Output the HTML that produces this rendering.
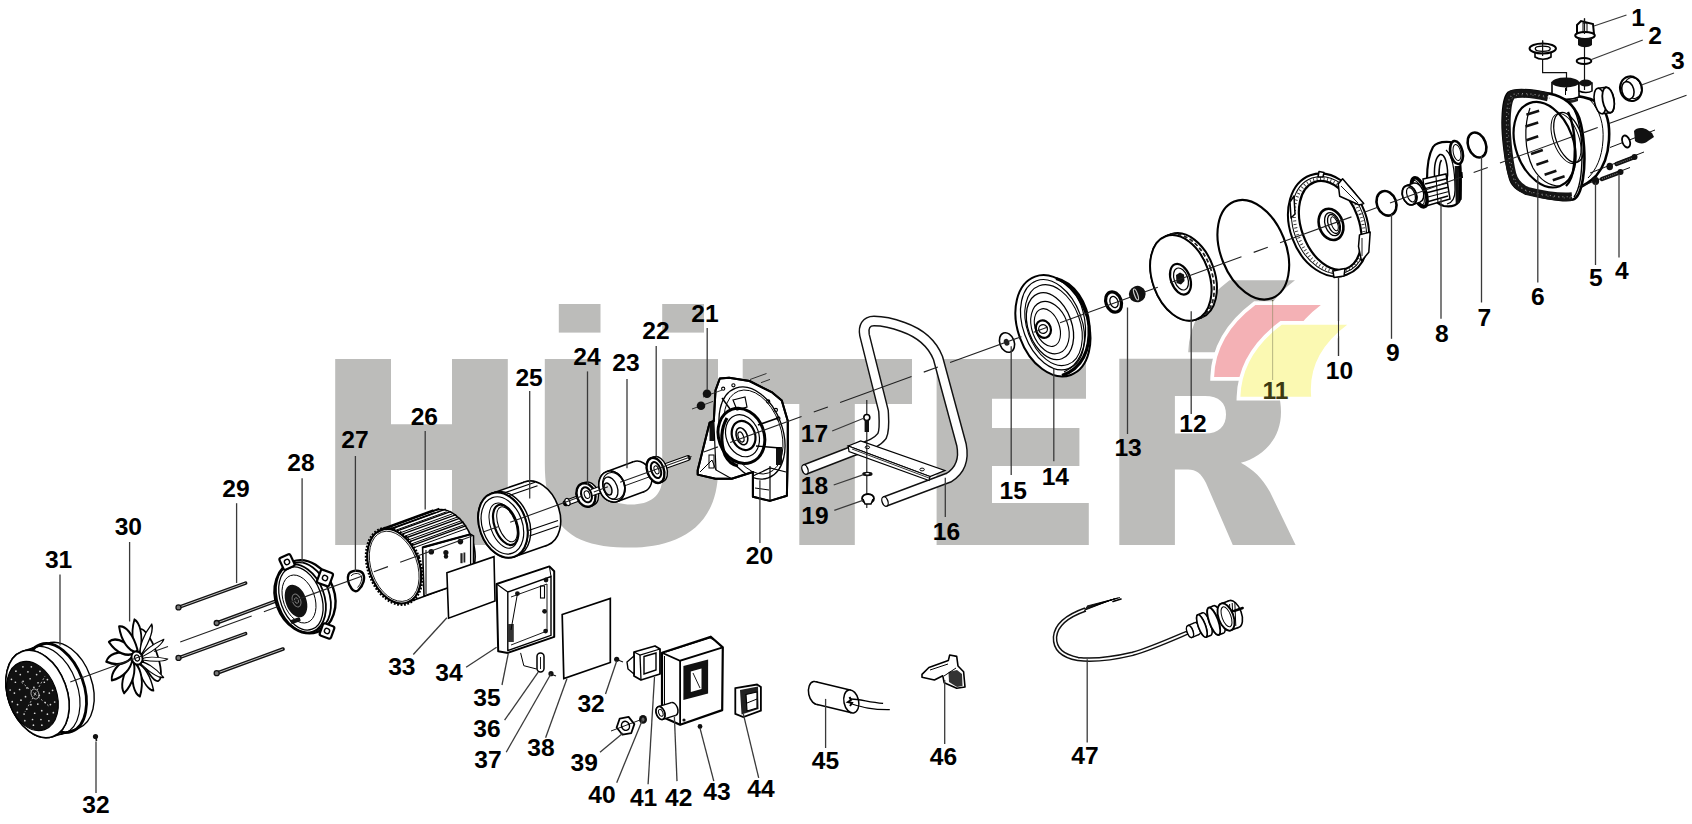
<!DOCTYPE html>
<html><head><meta charset="utf-8"><title>Exploded diagram</title>
<style>html,body{margin:0;padding:0;background:#fff;overflow:hidden}svg{display:block}</style>
</head><body>
<svg width="1692" height="824" viewBox="0 0 1692 824">
<rect width="1692" height="824" fill="#fff"/>
<g fill="#bcbcba"><path d="M335.2,359 H391 V424.3 H452 V359 H507.8 V545 H452 V470 H391 V545 H335.2 Z"/><path d="M544.8,359 H600.5 V478 C600.5,496 612,504.5 631,504.5 C650,504.5 662.2,496 662.2,478 V359 H718 V470 C718,533 669.4,547.6 631,547.6 C577.4,547.6 544.8,533.5 544.8,463 Z"/><rect x="558.8" y="304" width="41.7" height="28.6"/><rect x="662.2" y="304" width="41.8" height="28.6"/><path d="M742.7,359 H912 V404 H854.8 V545 H799.3 V404 H742.7 Z"/><path d="M936.6,359 H1086 V398.7 H992 V428 H1079.4 V466 H992 V503 H1088.8 V545 H936.6 Z"/><path d="M1119.3,358.7 H1215 C1262,358.7 1281,380 1281,412 C1281,440 1262,457 1240.8,462.8 C1254,470 1262,478 1270,492 L1295.6,545 H1232.8 L1206,483 C1201,473 1196,469.5 1188,469.5 H1174.9 V545 H1119.3 Z M1174.9,396 V433.5 H1205 C1219,433.5 1226,426 1226,414.5 C1226,403 1219,396 1205,396 Z" fill-rule="evenodd"/></g>
<path d="M1229.5,280.3 H1295 Q1255,310.3 1259,352.3 H1188.2 Q1189.5,310.3 1229.5,280.3 Z" fill="#fff" stroke="#fff" stroke-width="7.5" stroke-linejoin="miter"/>
<path d="M1229.5,280.3 H1295 Q1255,310.3 1259,352.3 H1188.2 Q1189.5,310.3 1229.5,280.3 Z" fill="#bcbcba"/>
<ellipse cx="62.5" cy="686" rx="29.44" ry="45.25" transform="rotate(-20 62.5 686)" fill="#fff" stroke="#000" stroke-width="1.4"/><polygon points="52.25,736.77 77.25,728.77 47.75,643.23 22.75,651.23" fill="#fff"/><line x1="52.25" y1="736.77" x2="77.25" y2="728.77" stroke="#000" stroke-width="1.4"/><line x1="22.75" y1="651.23" x2="47.75" y2="643.23" stroke="#000" stroke-width="1.4"/><ellipse cx="37.5" cy="694" rx="29.44" ry="45.25" transform="rotate(-20 37.5 694)" fill="#fff" stroke="#000" stroke-width="1.4"/><ellipse cx="56" cy="688" rx="27.75" ry="46.27" transform="rotate(-20 56 688)" stroke="#000" stroke-width="2.8" fill="none"/><ellipse cx="49" cy="690.5" rx="28.5" ry="45.66" transform="rotate(-20 49 690.5)" stroke="#000" stroke-width="1.2" fill="none"/><ellipse cx="37.5" cy="694" rx="29.44" ry="45.25" transform="rotate(-20 37.5 694)" stroke="#000" stroke-width="1.6" fill="#fff"/><ellipse cx="32.4" cy="696" rx="24.3" ry="35.74" transform="rotate(-20 32.4 696)" stroke="#000" stroke-width="1.2" fill="#111"/><g fill="#d8d8d8"><circle cx="39.29" cy="695.34" r="0.85"/><circle cx="37.8" cy="704.04" r="0.85"/><circle cx="30.91" cy="704.7" r="0.85"/><circle cx="25.51" cy="696.66" r="0.85"/><circle cx="27" cy="687.96" r="0.85"/><circle cx="33.89" cy="687.3" r="0.85"/><circle cx="43.82" cy="691.84" r="0.85"/><circle cx="45.23" cy="702.51" r="0.85"/><circle cx="41.74" cy="710.69" r="0.85"/><circle cx="34.69" cy="713.26" r="0.85"/><circle cx="26.76" cy="709.23" r="0.85"/><circle cx="20.98" cy="700.16" r="0.85"/><circle cx="19.57" cy="689.49" r="0.85"/><circle cx="23.06" cy="681.31" r="0.85"/><circle cx="30.11" cy="678.74" r="0.85"/><circle cx="38.04" cy="682.77" r="0.85"/><circle cx="49.31" cy="693.09" r="0.85"/><circle cx="50.41" cy="704.6" r="0.85"/><circle cx="47.39" cy="714.14" r="0.85"/><circle cx="40.94" cy="719.52" r="0.85"/><circle cx="32.52" cy="719.51" r="0.85"/><circle cx="24.09" cy="714.12" r="0.85"/><circle cx="17.55" cy="704.58" r="0.85"/><circle cx="14.42" cy="693.07" r="0.85"/><circle cx="15.4" cy="682.23" r="0.85"/><circle cx="20.28" cy="674.55" r="0.85"/><circle cx="27.94" cy="671.78" r="0.85"/><circle cx="36.62" cy="674.56" r="0.85"/><circle cx="44.33" cy="682.25" r="0.85"/><circle cx="52.56" cy="690.37" r="0.85"/><circle cx="54.65" cy="701.98" r="0.85"/><circle cx="53.35" cy="712.68" r="0.85"/><circle cx="48.87" cy="720.84" r="0.85"/><circle cx="41.87" cy="725.22" r="0.85"/><circle cx="33.44" cy="725.15" r="0.85"/><circle cx="24.84" cy="720.64" r="0.85"/><circle cx="17.4" cy="712.38" r="0.85"/><circle cx="12.24" cy="701.63" r="0.85"/><circle cx="10.15" cy="690.02" r="0.85"/><circle cx="11.45" cy="679.32" r="0.85"/><circle cx="15.93" cy="671.16" r="0.85"/><circle cx="22.93" cy="666.78" r="0.85"/><circle cx="31.36" cy="666.85" r="0.85"/><circle cx="39.96" cy="671.36" r="0.85"/><circle cx="47.4" cy="679.62" r="0.85"/></g><line x1="35" y1="694" x2="49.42" y2="706.62" stroke="#bbb" stroke-width="0.9" stroke-dasharray="2 2"/><line x1="35" y1="694" x2="24.91" y2="712.02" stroke="#bbb" stroke-width="0.9" stroke-dasharray="2 2"/><line x1="35" y1="694" x2="20.58" y2="681.38" stroke="#bbb" stroke-width="0.9" stroke-dasharray="2 2"/><line x1="35" y1="694" x2="45.09" y2="675.98" stroke="#bbb" stroke-width="0.9" stroke-dasharray="2 2"/><ellipse cx="35" cy="694" rx="3.82" ry="5.14" transform="rotate(-20 35 694)" stroke="#aaa" stroke-width="0.9" fill="none"/><circle cx="95.5" cy="736.5" r="2.6" fill="#111"/><line x1="96" y1="738" x2="96.5" y2="741" stroke="#111" stroke-width="1.6"/>
<ellipse cx="149" cy="655" rx="7.92" ry="27.52" transform="rotate(-20 149 655)" stroke="#000" stroke-width="1.8" fill="none"/><g transform="translate(137 658) scale(0.8 1)" fill="#fff" stroke="#000" stroke-width="2.4" stroke-linejoin="round"><g transform="rotate(5) scale(0.94 1)"><path d="M1,-6 C-6,-11 -11,-23 -7,-38 C0,-36 6,-25 4,-7 Z"/></g><g transform="rotate(35) scale(0.63 1)"><path d="M1,-6 C-6,-11 -11,-23 -7,-38 C0,-36 6,-25 4,-7 Z"/></g><g transform="rotate(65) scale(0.41 1)"><path d="M1,-6 C-6,-11 -11,-23 -7,-38 C0,-36 6,-25 4,-7 Z"/></g><g transform="rotate(95) scale(0.35 1)"><path d="M1,-6 C-6,-11 -11,-23 -7,-38 C0,-36 6,-25 4,-7 Z"/></g><g transform="rotate(125) scale(0.47 1)"><path d="M1,-6 C-6,-11 -11,-23 -7,-38 C0,-36 6,-25 4,-7 Z"/></g><g transform="rotate(155) scale(0.73 1)"><path d="M1,-6 C-6,-11 -11,-23 -7,-38 C0,-36 6,-25 4,-7 Z"/></g><g transform="rotate(185) scale(1 1)"><path d="M1,-6 C-6,-11 -11,-23 -7,-38 C0,-36 6,-25 4,-7 Z"/></g><g transform="rotate(215) scale(1 1)"><path d="M1,-6 C-6,-11 -11,-23 -7,-38 C0,-36 6,-25 4,-7 Z"/></g><g transform="rotate(245) scale(1 1)"><path d="M1,-6 C-6,-11 -11,-23 -7,-38 C0,-36 6,-25 4,-7 Z"/></g><g transform="rotate(275) scale(1 1)"><path d="M1,-6 C-6,-11 -11,-23 -7,-38 C0,-36 6,-25 4,-7 Z"/></g><g transform="rotate(305) scale(1 1)"><path d="M1,-6 C-6,-11 -11,-23 -7,-38 C0,-36 6,-25 4,-7 Z"/></g><g transform="rotate(335) scale(1 1)"><path d="M1,-6 C-6,-11 -11,-23 -7,-38 C0,-36 6,-25 4,-7 Z"/></g></g><ellipse cx="137" cy="658" rx="5.33" ry="6.64" transform="rotate(-20 137 658)" stroke="#000" stroke-width="1.8" fill="#fff"/><ellipse cx="137" cy="658" rx="2.41" ry="3.07" transform="rotate(-20 137 658)" stroke="#000" stroke-width="1.2" fill="none"/>
<line x1="178.5" y1="607.4" x2="245.6" y2="583.1" stroke="#111" stroke-width="3.6" stroke-linecap="round"/><line x1="178.5" y1="607.4" x2="245.6" y2="583.1" stroke="#bbb" stroke-width="1.0"/><circle cx="178.5" cy="607.4" r="2.5" fill="#777" stroke="#111" stroke-width="1.3"/><line x1="216.7" y1="623" x2="283" y2="598.4" stroke="#111" stroke-width="3.6" stroke-linecap="round"/><line x1="216.7" y1="623" x2="283" y2="598.4" stroke="#bbb" stroke-width="1.0"/><circle cx="216.7" cy="623" r="2.5" fill="#777" stroke="#111" stroke-width="1.3"/><line x1="178.5" y1="657.9" x2="245.6" y2="633.6" stroke="#111" stroke-width="3.6" stroke-linecap="round"/><line x1="178.5" y1="657.9" x2="245.6" y2="633.6" stroke="#bbb" stroke-width="1.0"/><circle cx="178.5" cy="657.9" r="2.5" fill="#777" stroke="#111" stroke-width="1.3"/><line x1="216.7" y1="673.2" x2="283" y2="649" stroke="#111" stroke-width="3.6" stroke-linecap="round"/><line x1="216.7" y1="673.2" x2="283" y2="649" stroke="#bbb" stroke-width="1.0"/><circle cx="216.7" cy="673.2" r="2.5" fill="#777" stroke="#111" stroke-width="1.3"/>
<ellipse cx="305.9" cy="596.5" rx="23.32" ry="35.17" transform="rotate(-20 305.9 596.5)" fill="#fff" stroke="#000" stroke-width="1.8"/><polygon points="313.31,631.41 318.31,629.41 293.49,563.59 288.49,565.59" fill="#fff"/><line x1="313.31" y1="631.41" x2="318.31" y2="629.41" stroke="#000" stroke-width="1.8"/><line x1="288.49" y1="565.59" x2="293.49" y2="563.59" stroke="#000" stroke-width="1.8"/><ellipse cx="300.9" cy="598.5" rx="23.32" ry="35.17" transform="rotate(-20 300.9 598.5)" fill="#fff" stroke="#000" stroke-width="1.8"/><ellipse cx="305" cy="596.7" rx="29.48" ry="37.33" transform="rotate(-20 305 596.7)" stroke="#000" stroke-width="2.4" fill="none"/><ellipse cx="300.9" cy="598.5" rx="20.41" ry="32.69" transform="rotate(-20 300.9 598.5)" stroke="#000" stroke-width="1.3" fill="#fff"/><ellipse cx="299" cy="599" rx="15.66" ry="24.9" transform="rotate(-20 299 599)" stroke="#000" stroke-width="0.9" fill="none"/><ellipse cx="296" cy="601" rx="10.33" ry="16.93" transform="rotate(-20 296 601)" fill="#111"/><ellipse cx="296.5" cy="600.5" rx="4.11" ry="6.75" transform="rotate(-20 296.5 600.5)" stroke="#777" stroke-width="1" fill="none"/><ellipse cx="296.5" cy="600.5" rx="1.85" ry="2.9" transform="rotate(-20 296.5 600.5)" stroke="#888" stroke-width="0.8" fill="none"/><rect x="290.5" y="618.5" width="10" height="4.2" rx="1" fill="#111" transform="rotate(-20 295.5 620.6)"/><g transform="translate(287 562) rotate(-25)"><rect x="-6.0" y="-6.5" width="12" height="13" rx="2" fill="#fff" stroke="#000" stroke-width="2.2"/><circle cx="0" cy="0" r="2.6" fill="none" stroke="#000" stroke-width="1.4"/></g><g transform="translate(325 578) rotate(20)"><rect x="-6.5" y="-7.0" width="13" height="14" rx="2" fill="#fff" stroke="#000" stroke-width="2.2"/><circle cx="0" cy="0" r="2.6" fill="none" stroke="#000" stroke-width="1.4"/></g><g transform="translate(327 631) rotate(20)"><rect x="-6.0" y="-6.5" width="12" height="13" rx="2" fill="#fff" stroke="#000" stroke-width="2.2"/><circle cx="0" cy="0" r="2.6" fill="none" stroke="#000" stroke-width="1.4"/></g>
<path d="M348.5,574.5 C351,570 360,569.5 363,573.5 C365.5,578 363.5,585 358.5,590 C356.5,592 353.5,591.5 351.5,588.5 C348.5,584 347,578.5 348.5,574.5 Z" fill="none" stroke="#000" stroke-width="2.4" stroke-linejoin="round"/><path d="M351,576 C353,573 359,572.5 361,575.5 C362.5,579 361,584 357.5,587.5" fill="none" stroke="#000" stroke-width="0.9"/>
<ellipse cx="448.2" cy="546.7" rx="24.98" ry="38.42" transform="rotate(-20 448.2 546.7)" fill="#fff" stroke="#000" stroke-width="1.6"/><polygon points="407.34,602.4 461.34,582.8 435.06,510.6 381.06,530.2" fill="#fff"/><line x1="407.34" y1="602.4" x2="461.34" y2="582.8" stroke="#000" stroke-width="1.6"/><line x1="381.06" y1="530.2" x2="435.06" y2="510.6" stroke="#000" stroke-width="1.6"/><ellipse cx="394.2" cy="566.3" rx="24.98" ry="38.42" transform="rotate(-20 394.2 566.3)" fill="#fff" stroke="#000" stroke-width="1.6"/><line x1="379.42" y1="529.63" x2="433.42" y2="510.03" stroke="#000" stroke-width="1.4"/><line x1="380.42" y1="532.23" x2="434.42" y2="512.63" stroke="#000" stroke-width="1.0"/><line x1="385.3" y1="528.13" x2="439.3" y2="508.53" stroke="#000" stroke-width="1.4"/><line x1="386.3" y1="530.73" x2="440.3" y2="511.13" stroke="#000" stroke-width="1.0"/><line x1="391.67" y1="528.75" x2="445.67" y2="509.15" stroke="#000" stroke-width="1.4"/><line x1="392.67" y1="531.35" x2="446.67" y2="511.75" stroke="#000" stroke-width="1.0"/><line x1="397.22" y1="530.92" x2="451.22" y2="511.32" stroke="#000" stroke-width="1.4"/><line x1="398.22" y1="533.52" x2="452.22" y2="513.92" stroke="#000" stroke-width="1.0"/><line x1="402.19" y1="534.14" x2="456.19" y2="514.54" stroke="#000" stroke-width="1.4"/><line x1="403.19" y1="536.74" x2="457.19" y2="517.14" stroke="#000" stroke-width="1.0"/><line x1="406.24" y1="537.76" x2="460.24" y2="518.16" stroke="#000" stroke-width="1.4"/><line x1="407.24" y1="540.36" x2="461.24" y2="520.76" stroke="#000" stroke-width="1.0"/><line x1="409.6" y1="541.58" x2="463.6" y2="521.98" stroke="#000" stroke-width="1.4"/><line x1="410.6" y1="544.18" x2="464.6" y2="524.58" stroke="#000" stroke-width="1.0"/><line x1="412.29" y1="545.31" x2="466.29" y2="525.71" stroke="#000" stroke-width="1.4"/><line x1="413.29" y1="547.91" x2="467.29" y2="528.31" stroke="#000" stroke-width="1.0"/><polygon points="422.6,547.4 470.6,534.3 473.5,536 473.5,580 447.3,588 424,596" fill="#fff" stroke="#000" stroke-width="1.6"/><line x1="426" y1="550" x2="426" y2="594" stroke="#000" stroke-width="1.0"/><line x1="422.6" y1="547.4" x2="470.6" y2="534.3" stroke="#000" stroke-width="2.2"/><circle cx="431.3" cy="551.8" r="2.8" fill="#111"/><circle cx="445.9" cy="552.6" r="2.6" fill="#111"/><circle cx="460.4" cy="541.6" r="2.8" fill="#111"/><circle cx="446" cy="556.5" r="2.2" fill="#111"/><rect x="460.4" y="553.2" width="2.2" height="10" fill="#222"/><rect x="463.5" y="552.5" width="1.8" height="10" fill="#222"/><line x1="470.6" y1="534.3" x2="470.6" y2="575" stroke="#000" stroke-width="1.3"/><ellipse cx="394.2" cy="566.3" rx="26.3" ry="39.73" transform="rotate(-20 394.2 566.3)" stroke="#000" stroke-width="2.4" fill="none" stroke-dasharray="1.8 1.6"/><ellipse cx="394.2" cy="566.3" rx="24.98" ry="38.42" transform="rotate(-20 394.2 566.3)" stroke="#000" stroke-width="2.0" fill="#fff"/><ellipse cx="394.2" cy="566.3" rx="22.95" ry="36.41" transform="rotate(-20 394.2 566.3)" stroke="#000" stroke-width="0.8" fill="none"/>
<ellipse cx="535.9" cy="513.6" rx="23.38" ry="33.63" transform="rotate(-20 535.9 513.6)" fill="#fff" stroke="#000" stroke-width="1.6"/><polygon points="514.21,556.77 547.21,545.27 524.59,481.93 491.59,493.43" fill="#fff"/><line x1="514.21" y1="556.77" x2="547.21" y2="545.27" stroke="#000" stroke-width="1.6"/><line x1="491.59" y1="493.43" x2="524.59" y2="481.93" stroke="#000" stroke-width="1.6"/><ellipse cx="502.9" cy="525.1" rx="23.38" ry="33.63" transform="rotate(-20 502.9 525.1)" fill="#fff" stroke="#000" stroke-width="1.6"/><line x1="506" y1="492.2" x2="535" y2="482.3" stroke="#000" stroke-width="1.2"/><line x1="508.5" y1="495.8" x2="537.5" y2="485.8" stroke="#000" stroke-width="1.2"/><line x1="528.5" y1="530.5" x2="558" y2="520.5" stroke="#000" stroke-width="1.2"/><line x1="529.5" y1="536" x2="558.5" y2="526" stroke="#000" stroke-width="1.2"/><ellipse cx="505.9" cy="524.1" rx="23.38" ry="33.63" transform="rotate(-20 505.9 524.1)" stroke="#000" stroke-width="1.4" fill="none"/><ellipse cx="502.9" cy="525.1" rx="23.38" ry="33.63" transform="rotate(-20 502.9 525.1)" stroke="#000" stroke-width="2.0" fill="#fff"/><ellipse cx="502.4" cy="525.4" rx="19.95" ry="29.56" transform="rotate(-20 502.4 525.4)" stroke="#000" stroke-width="1.2" fill="none"/><ellipse cx="505.7" cy="524.8" rx="11.12" ry="21.11" transform="rotate(-20 505.7 524.8)" stroke="#000" stroke-width="2.2" fill="#fff"/><ellipse cx="503.5" cy="525.6" rx="12.85" ry="23.48" transform="rotate(-20 503.5 525.6)" stroke="#000" stroke-width="1.0" fill="none"/><ellipse cx="507" cy="524.3" rx="8.69" ry="18.35" transform="rotate(-20 507 524.3)" stroke="#000" stroke-width="1.0" fill="none"/>
<line x1="566" y1="503" x2="600" y2="490.5" stroke="#000" stroke-width="6.5" stroke-linecap="round"/><line x1="566" y1="503" x2="600" y2="490.5" stroke="#fff" stroke-width="4.2"/><ellipse cx="567.5" cy="502" rx="2.29" ry="3.74" transform="rotate(-20 567.5 502)" stroke="#000" stroke-width="1.2" fill="#fff"/><ellipse cx="589" cy="493.9" rx="9.22" ry="12.1" transform="rotate(-20 589 493.9)" fill="#fff" stroke="#000" stroke-width="1.4"/><polygon points="590.14,506.37 593.14,505.27 584.86,482.53 581.86,483.63" fill="#fff"/><line x1="590.14" y1="506.37" x2="593.14" y2="505.27" stroke="#000" stroke-width="1.4"/><line x1="581.86" y1="483.63" x2="584.86" y2="482.53" stroke="#000" stroke-width="1.4"/><ellipse cx="586" cy="495" rx="9.22" ry="12.1" transform="rotate(-20 586 495)" fill="#fff" stroke="#000" stroke-width="1.4"/><ellipse cx="586" cy="495" rx="9.22" ry="12.1" transform="rotate(-20 586 495)" stroke="#000" stroke-width="2.4" fill="#fff"/><ellipse cx="586.5" cy="494.8" rx="5.13" ry="7.76" transform="rotate(-20 586.5 494.8)" stroke="#000" stroke-width="2.0" fill="none"/><ellipse cx="587" cy="494.6" rx="2.61" ry="3.93" transform="rotate(-20 587 494.6)" stroke="#000" stroke-width="1.0" fill="#fff"/><line x1="592" y1="492.5" x2="606" y2="487.5" stroke="#000" stroke-width="7.5"/><line x1="592" y1="492.5" x2="606" y2="487.5" stroke="#fff" stroke-width="5.2"/><ellipse cx="638.9" cy="476.6" rx="12.69" ry="15.83" transform="rotate(-20 638.9 476.6)" fill="#fff" stroke="#000" stroke-width="1.5"/><polygon points="617.42,501.44 644.42,491.44 633.38,461.76 606.38,471.76" fill="#fff"/><line x1="617.42" y1="501.44" x2="644.42" y2="491.44" stroke="#000" stroke-width="1.5"/><line x1="606.38" y1="471.76" x2="633.38" y2="461.76" stroke="#000" stroke-width="1.5"/><ellipse cx="611.9" cy="486.6" rx="12.69" ry="15.83" transform="rotate(-20 611.9 486.6)" fill="#fff" stroke="#000" stroke-width="1.5"/><line x1="613" y1="490" x2="660" y2="473" stroke="#000" stroke-width="0.9"/><ellipse cx="611.9" cy="486.6" rx="12.69" ry="15.83" transform="rotate(-20 611.9 486.6)" stroke="#000" stroke-width="1.6" fill="#fff"/><ellipse cx="613.5" cy="486" rx="10.57" ry="13.84" transform="rotate(-20 613.5 486)" stroke="#000" stroke-width="1.0" fill="none"/><ellipse cx="610.5" cy="488" rx="6.81" ry="11.44" transform="rotate(-20 610.5 488)" stroke="#000" stroke-width="1.3" fill="#fff"/><ellipse cx="608" cy="489" rx="3.6" ry="6.25" transform="rotate(-20 608 489)" stroke="#000" stroke-width="1.5" fill="#ddd"/><line x1="660" y1="468" x2="688" y2="458" stroke="#000" stroke-width="5.6" stroke-linecap="round"/><line x1="660" y1="468" x2="688" y2="458" stroke="#fff" stroke-width="3.6"/><ellipse cx="658.5" cy="469.2" rx="8.31" ry="13.06" transform="rotate(-20 658.5 469.2)" fill="#fff" stroke="#000" stroke-width="1.4"/><polygon points="659.97,482.57 662.97,481.47 654.03,456.93 651.03,458.03" fill="#fff"/><line x1="659.97" y1="482.57" x2="662.97" y2="481.47" stroke="#000" stroke-width="1.4"/><line x1="651.03" y1="458.03" x2="654.03" y2="456.93" stroke="#000" stroke-width="1.4"/><ellipse cx="655.5" cy="470.3" rx="8.31" ry="13.06" transform="rotate(-20 655.5 470.3)" fill="#fff" stroke="#000" stroke-width="1.4"/><ellipse cx="655.5" cy="470.3" rx="8.31" ry="13.06" transform="rotate(-20 655.5 470.3)" stroke="#000" stroke-width="2.4" fill="#fff"/><ellipse cx="656" cy="470.1" rx="4.63" ry="8.35" transform="rotate(-20 656 470.1)" stroke="#000" stroke-width="2.0" fill="none"/><ellipse cx="656.5" cy="469.9" rx="2.18" ry="4.18" transform="rotate(-20 656.5 469.9)" stroke="#000" stroke-width="1.0" fill="#fff"/>
<polygon points="719.8,378.5 715.5,390.4 713.8,421 709.6,422.7 697.7,470.3 697.7,474.6 715.5,478.8 731.7,478.8 752.9,472 752.9,496.7 769.9,500.9 786.9,495.8 787.8,448.2 787.8,421 781.8,400.6 771.6,392.1 749.5,381 729.1,377.7" fill="#fff" stroke="#000" stroke-width="2.0" stroke-linejoin="round"/><clipPath id="c20"><polygon points="719.8,378.5 715.5,390.4 713.8,421 709.6,422.7 697.7,470.3 697.7,474.6 715.5,478.8 731.7,478.8 752.9,472 752.9,496.7 769.9,500.9 786.9,495.8 787.8,448.2 787.8,421 781.8,400.6 771.6,392.1 749.5,381 729.1,377.7"/></clipPath><g clip-path="url(#c20)"><ellipse cx="752" cy="433" rx="30.53" ry="47.67" transform="rotate(-20 752 433)" stroke="#000" stroke-width="1.3" fill="none"/><ellipse cx="753.5" cy="432" rx="27.09" ry="43.59" transform="rotate(-20 753.5 432)" stroke="#000" stroke-width="0.9" fill="none"/><polyline points="713.8,421 716,470 731.7,478.8" fill="none" stroke="#000" stroke-width="1.2"/><polyline points="700,472 712,460 716,470" fill="none" stroke="#000" stroke-width="1"/><rect x="709.5" y="421" width="4.5" height="20" fill="#111"/><rect x="709" y="455" width="5" height="13" fill="none" stroke="#000" stroke-width="1"/><polyline points="752.9,476 770,468 786,472" fill="none" stroke="#000" stroke-width="1.2"/><line x1="770" y1="466" x2="770" y2="500" stroke="#000" stroke-width="1.2"/><line x1="755" y1="488" x2="769" y2="490" stroke="#000" stroke-width="1"/><rect x="776" y="447" width="6" height="18" fill="#111"/><ellipse cx="741.4" cy="435.9" rx="22.69" ry="28.19" transform="rotate(-20 741.4 435.9)" stroke="#000" stroke-width="3.0" fill="#fff"/><path d="M727,418 C721,428 720,442 725,455 C728,461 733,465 738,466" fill="none" stroke="#000" stroke-width="3.2"/><ellipse cx="742.5" cy="435.7" rx="16.3" ry="21.55" transform="rotate(-20 742.5 435.7)" stroke="#000" stroke-width="1.2" fill="none"/><ellipse cx="743.6" cy="435.5" rx="11.45" ry="14.86" transform="rotate(-20 743.6 435.5)" stroke="#000" stroke-width="2.2" fill="#fff"/><ellipse cx="741.9" cy="436.3" rx="5.39" ry="8.83" transform="rotate(-20 741.9 436.3)" stroke="#000" stroke-width="1.6" fill="none"/><ellipse cx="741" cy="437" rx="2.56" ry="5.24" transform="rotate(-20 741 437)" stroke="#000" stroke-width="1.2" fill="none"/><line x1="758" y1="425" x2="778" y2="418" stroke="#000" stroke-width="1.8"/><line x1="756" y1="446" x2="780" y2="448" stroke="#000" stroke-width="1.4"/><line x1="730" y1="409" x2="722" y2="398" stroke="#000" stroke-width="1.4"/><polygon points="733,400 745,397 747,407 737,410" fill="none" stroke="#000" stroke-width="1.2"/><circle cx="723.2" cy="388.7" r="1.6" fill="none" stroke="#000" stroke-width="1.1"/><circle cx="733.4" cy="385.3" r="1.6" fill="none" stroke="#000" stroke-width="1.1"/><circle cx="768.2" cy="401.5" r="1.6" fill="none" stroke="#000" stroke-width="1.1"/><circle cx="775.9" cy="410" r="1.6" fill="none" stroke="#000" stroke-width="1.1"/><circle cx="778.4" cy="418.5" r="1.6" fill="none" stroke="#000" stroke-width="1.1"/></g><polygon points="719.8,378.5 715.5,390.4 713.8,421 709.6,422.7 697.7,470.3 697.7,474.6 715.5,478.8 731.7,478.8 752.9,472 752.9,496.7 769.9,500.9 786.9,495.8 787.8,448.2 787.8,421 781.8,400.6 771.6,392.1 749.5,381 729.1,377.7" fill="none" stroke="#000" stroke-width="2.0" stroke-linejoin="round"/><line x1="692" y1="409" x2="713" y2="401.4" stroke="#222" stroke-width="0.9"/><line x1="703" y1="397" x2="722" y2="390.1" stroke="#222" stroke-width="0.9"/><line x1="750" y1="379.5" x2="766.5" y2="373.5" stroke="#222" stroke-width="0.9"/><line x1="761" y1="382.7" x2="770" y2="379.4" stroke="#222" stroke-width="0.9"/><circle cx="707" cy="393.8" r="4.3" fill="#111"/><circle cx="701" cy="405.7" r="4.3" fill="#111"/>
<path d="M805,469.5 L851.5,451.5 C866,446 876,444 882,436 C885,430 884,420 883.5,411 L864.5,335 C863,327 866,321 874,321 C882,321 895,324 903,327 C920,333 932,343 938,358 L961.5,445 C964,458 961,470 949,477.5 L885,501.5" fill="none" stroke="#111" stroke-width="11" stroke-linejoin="round"/><path d="M805,469.5 L851.5,451.5 C866,446 876,444 882,436 C885,430 884,420 883.5,411 L864.5,335 C863,327 866,321 874,321 C882,321 895,324 903,327 C920,333 932,343 938,358 L961.5,445 C964,458 961,470 949,477.5 L885,501.5" fill="none" stroke="#fff" stroke-width="8.1" stroke-linejoin="round"/><ellipse cx="805" cy="469.5" rx="2.88" ry="5" transform="rotate(-20 805 469.5)" fill="#fff" stroke="#000" stroke-width="1.3"/><ellipse cx="885" cy="501.5" rx="2.88" ry="5" transform="rotate(-20 885 501.5)" fill="#fff" stroke="#000" stroke-width="1.3"/><polygon points="848.2,446 860.7,440.9 944.8,470.5 930,476.5" fill="#fff" stroke="#000" stroke-width="1.3"/><polygon points="848.2,446 930,476.5 929,480.5 849,451.5" fill="#fff" stroke="#000" stroke-width="1.2"/><line x1="852" y1="449" x2="929" y2="478" stroke="#000" stroke-width="0.8"/><ellipse cx="867.4" cy="447.3" rx="2.2" ry="1.4" fill="none" stroke="#000" stroke-width="1"/><ellipse cx="922.1" cy="469.5" rx="2.2" ry="1.4" fill="none" stroke="#000" stroke-width="1"/><line x1="866.8" y1="400" x2="866.8" y2="508" stroke="#111" stroke-width="1.1"/><circle cx="866.8" cy="417.5" r="3" fill="#fff" stroke="#000" stroke-width="1.6"/><rect x="864.6" y="420" width="4.4" height="12" fill="#111"/><ellipse cx="867.4" cy="474" rx="5.2" ry="2.2" fill="#111"/><ellipse cx="867.4" cy="473.8" rx="2" ry="0.8" fill="#fff"/><ellipse cx="868" cy="498.5" rx="6" ry="4.5" fill="#fff" stroke="#000" stroke-width="1.8"/><path d="M863,499 L865,504 L871,504 L873,499" fill="#fff" stroke="#000" stroke-width="1.4"/>
<ellipse cx="1007" cy="342.5" rx="7.21" ry="10.09" transform="rotate(-20 1007 342.5)" stroke="#000" stroke-width="1.6" fill="#fff"/><ellipse cx="1006.6" cy="342.3" rx="2.7" ry="3.48" transform="rotate(-20 1006.6 342.3)" fill="#222"/><ellipse cx="1052.9" cy="325.8" rx="35.07" ry="52.31" transform="rotate(-20 1052.9 325.8)" stroke="#000" stroke-width="2.0" fill="#fff"/><path d="M1056,278.5 C1074,283 1087,302 1089,326 C1090.5,350 1082,369 1062,375.5" fill="none" stroke="#000" stroke-width="3.2"/><path d="M1060,281 C1075,287 1084,305 1085.5,327 C1086.5,348 1079,365 1064,372" fill="none" stroke="#000" stroke-width="1.2"/><ellipse cx="1052.5" cy="324.7" rx="29.49" ry="46.78" transform="rotate(-20 1052.5 324.7)" stroke="#000" stroke-width="1.2" fill="none"/><ellipse cx="1053.55" cy="325.1" rx="26.52" ry="41.89" transform="rotate(-20 1053.55 325.1)" stroke="#000" stroke-width="1.1" fill="none"/><ellipse cx="1049.95" cy="326.15" rx="21.77" ry="34.7" transform="rotate(-20 1049.95 326.15)" stroke="#000" stroke-width="1.3" fill="none"/><ellipse cx="1049.95" cy="327.6" rx="17.95" ry="27.1" transform="rotate(-20 1049.95 327.6)" stroke="#000" stroke-width="1.1" fill="none"/><ellipse cx="1047.4" cy="327.6" rx="11.97" ry="19.64" transform="rotate(-20 1047.4 327.6)" stroke="#000" stroke-width="1.1" fill="none"/><ellipse cx="1043.4" cy="329.05" rx="7.41" ry="8.91" transform="rotate(-20 1043.4 329.05)" stroke="#000" stroke-width="2.2" fill="#fff"/><ellipse cx="1043.05" cy="329.05" rx="4.35" ry="4.35" transform="rotate(-20 1043.05 329.05)" stroke="#000" stroke-width="1.3" fill="none"/><ellipse cx="1113.6" cy="302" rx="7.61" ry="10.5" transform="rotate(-20 1113.6 302)" stroke="#000" stroke-width="3.2" fill="#fff"/><ellipse cx="1114" cy="302" rx="3.94" ry="5.78" transform="rotate(-20 1114 302)" stroke="#000" stroke-width="1.3" fill="none"/><ellipse cx="1137.3" cy="294.1" rx="8.43" ry="8.17" transform="rotate(-20 1137.3 294.1)" fill="#111"/><ellipse cx="1136" cy="294.5" rx="1.61" ry="5.82" transform="rotate(-20 1136 294.5)" fill="none" stroke="#ccc" stroke-width="1.2"/>
<ellipse cx="1186.3" cy="275.9" rx="28.3" ry="44.26" transform="rotate(-20 1186.3 275.9)" fill="#fff" stroke="#000" stroke-width="2.0"/><polygon points="1195.94,319.49 1201.44,317.49 1171.16,234.31 1165.66,236.31" fill="#fff"/><line x1="1195.94" y1="319.49" x2="1201.44" y2="317.49" stroke="#000" stroke-width="2.0"/><line x1="1165.66" y1="236.31" x2="1171.16" y2="234.31" stroke="#000" stroke-width="2.0"/><ellipse cx="1180.8" cy="277.9" rx="28.3" ry="44.26" transform="rotate(-20 1180.8 277.9)" fill="#fff" stroke="#000" stroke-width="2.0"/><ellipse cx="1183.6" cy="276.9" rx="28.3" ry="44.26" transform="rotate(-20 1183.6 276.9)" stroke="#222" stroke-width="1.8" fill="none" stroke-dasharray="4 2.5"/><ellipse cx="1180.8" cy="277.9" rx="28.3" ry="44.26" transform="rotate(-20 1180.8 277.9)" stroke="#000" stroke-width="1.8" fill="#fff"/><ellipse cx="1180.5" cy="279.2" rx="9.56" ry="15.91" transform="rotate(-20 1180.5 279.2)" stroke="#000" stroke-width="2.2" fill="#fff"/><ellipse cx="1181" cy="279" rx="6.81" ry="11.44" transform="rotate(-20 1181 279)" stroke="#000" stroke-width="1.2" fill="none"/><polygon points="1176,275 1180,272.5 1184,274.5 1184.5,281 1181,284.5 1176.5,283" fill="#111"/>
<ellipse cx="1253.3" cy="249.75" rx="32.6" ry="51.9" transform="rotate(-21.6 1253.3 249.75)" fill="none" stroke="#000" stroke-width="2.1"/>
<ellipse cx="1328.5" cy="225" rx="38.54" ry="52.98" transform="rotate(-20 1328.5 225)" stroke="#000" stroke-width="2.0" fill="#fff"/><ellipse cx="1329" cy="225" rx="35.52" ry="49.97" transform="rotate(-20 1329 225)" stroke="#000" stroke-width="1.0" fill="none"/><ellipse cx="1329.2" cy="225.2" rx="32.89" ry="48.01" transform="rotate(-20 1329.2 225.2)" stroke="#333" stroke-width="3.2" fill="none" stroke-dasharray="0.9 2.6"/><ellipse cx="1330.2" cy="225.4" rx="28.78" ry="46.07" transform="rotate(-20 1330.2 225.4)" stroke="#000" stroke-width="2.2" fill="#fff"/><polygon points="1338.2,183.9 1342.6,178.8 1363.7,203.6 1359.3,205 1339.7,196.3" fill="#fff" stroke="#000" stroke-width="1.5" stroke-linejoin="round"/><polygon points="1359.5,234.9 1370.2,232 1368.8,252.3 1361.5,261 1358.5,246.5" fill="#fff" stroke="#000" stroke-width="1.5" stroke-linejoin="round"/><polygon points="1319,171.5 1324,172.5 1323,177 1318,177" fill="#fff" stroke="#000" stroke-width="1.5" stroke-linejoin="round"/><polygon points="1333,271 1345,268.5 1344,276 1334,277.5" fill="#fff" stroke="#000" stroke-width="1.5" stroke-linejoin="round"/><polygon points="1290,202 1294,196 1295,214 1291,218" fill="#fff" stroke="#000" stroke-width="1.5" stroke-linejoin="round"/><line x1="1341" y1="186" x2="1358" y2="203" stroke="#000" stroke-width="0.9"/><line x1="1362" y1="238" x2="1362" y2="256" stroke="#000" stroke-width="0.9"/><ellipse cx="1331" cy="224.4" rx="11.84" ry="16.03" transform="rotate(-20 1331 224.4)" stroke="#000" stroke-width="2.6" fill="#fff"/><ellipse cx="1332.5" cy="224.2" rx="7.32" ry="11.94" transform="rotate(-20 1332.5 224.2)" stroke="#000" stroke-width="1.3" fill="none"/><ellipse cx="1333.5" cy="224" rx="5.26" ry="9.93" transform="rotate(-20 1333.5 224)" stroke="#000" stroke-width="1.3" fill="none"/><ellipse cx="1334.5" cy="223.8" rx="3.03" ry="7.37" transform="rotate(-20 1334.5 223.8)" stroke="#000" stroke-width="1.0" fill="none"/>
<ellipse cx="1386.5" cy="203.3" rx="9.6" ry="12.61" transform="rotate(-20 1386.5 203.3)" stroke="#000" stroke-width="2.6" fill="none"/><ellipse cx="1386.5" cy="203.3" rx="7.61" ry="10.5" transform="rotate(-20 1386.5 203.3)" stroke="#fff" stroke-width="0.6" fill="none"/><ellipse cx="1477" cy="145" rx="8.83" ry="12.91" transform="rotate(-20 1477 145)" stroke="#000" stroke-width="2.6" fill="none"/><ellipse cx="1477" cy="145" rx="6.8" ry="10.9" transform="rotate(-20 1477 145)" stroke="#fff" stroke-width="0.6" fill="none"/>
<path d="M1427,180 C1427,168 1429,154 1433,147 C1436,142.5 1443,141.5 1450,142 L1458,147 C1461,160 1461,185 1460.5,198 C1459,205 1452,207.5 1444,206 C1436,204 1430,196 1427,180 Z" fill="#fff" stroke="#000" stroke-width="2.2" stroke-linejoin="round"/><path d="M1434.5,177 C1434,165 1436,157 1440,154.5 C1444,153.5 1446.5,160 1447.5,170 C1448,177 1447,181 1445,182 Z" fill="none" stroke="#000" stroke-width="1.5"/><path d="M1439,176 C1439,168 1440,162 1441.5,160" fill="none" stroke="#000" stroke-width="1.6"/><path d="M1446,150 C1452,155 1455,170 1455,190 C1455,198 1452,203 1447,204" fill="none" stroke="#000" stroke-width="1.2"/><line x1="1459.5" y1="166" x2="1460" y2="200" stroke="#000" stroke-width="3.0"/><line x1="1461.5" y1="172" x2="1462" y2="178" stroke="#000" stroke-width="2.0"/><ellipse cx="1456.5" cy="152.5" rx="6.16" ry="11.68" transform="rotate(-12 1456.5 152.5)" stroke="#000" stroke-width="2.6" fill="#fff"/><ellipse cx="1457" cy="152.5" rx="3.71" ry="8.14" transform="rotate(-12 1457 152.5)" stroke="#000" stroke-width="1.0" fill="none"/><line x1="1456.5" y1="166" x2="1457.5" y2="203" stroke="#111" stroke-width="3.6"/><polygon points="1423,179 1446,174 1450,199 1426,206" fill="#fff" stroke="#000" stroke-width="1.5"/><line x1="1425" y1="184" x2="1448" y2="178.5" stroke="#000" stroke-width="1.6"/><line x1="1425" y1="188.6" x2="1448" y2="182.9" stroke="#000" stroke-width="1.1"/><line x1="1425" y1="193.2" x2="1448" y2="187.3" stroke="#000" stroke-width="1.6"/><line x1="1425" y1="197.8" x2="1448" y2="191.7" stroke="#000" stroke-width="1.1"/><line x1="1425" y1="202.4" x2="1448" y2="196.1" stroke="#000" stroke-width="1.6"/><line x1="1436" y1="177" x2="1438" y2="203" stroke="#000" stroke-width="1.0"/><ellipse cx="1419.3" cy="192.3" rx="6.17" ry="15.27" transform="rotate(-20 1419.3 192.3)" stroke="#000" stroke-width="3.6" fill="#fff"/><ellipse cx="1418.5" cy="192.5" rx="4.1" ry="12.68" transform="rotate(-20 1418.5 192.5)" stroke="#000" stroke-width="1.0" fill="none"/><ellipse cx="1416.5" cy="192.7" rx="6.86" ry="10.02" transform="rotate(-20 1416.5 192.7)" fill="#fff" stroke="#000" stroke-width="1.5"/><polygon points="1412.93,204.61 1419.93,202.11 1413.07,183.29 1406.07,185.79" fill="#fff"/><line x1="1412.93" y1="204.61" x2="1419.93" y2="202.11" stroke="#000" stroke-width="1.5"/><line x1="1406.07" y1="185.79" x2="1413.07" y2="183.29" stroke="#000" stroke-width="1.5"/><ellipse cx="1409.5" cy="195.2" rx="6.86" ry="10.02" transform="rotate(-20 1409.5 195.2)" fill="#fff" stroke="#000" stroke-width="1.5"/><ellipse cx="1409.5" cy="195.2" rx="6.86" ry="10.02" transform="rotate(-20 1409.5 195.2)" stroke="#000" stroke-width="1.8" fill="#fff"/><ellipse cx="1411" cy="194.8" rx="3.93" ry="7.53" transform="rotate(-20 1411 194.8)" stroke="#000" stroke-width="1.2" fill="none"/>
<path d="M1548,94 C1562,93 1590,96 1600,104 C1607,112 1610,125 1609,140 C1608,156 1603,168 1596,176 C1590,182 1583,186 1578,188 L1560,190 Z" fill="#fff" stroke="#000" stroke-width="2.6"/><path d="M1590,100 C1600,110 1604,125 1603,140 C1602,158 1596,170 1588,178" fill="none" stroke="#000" stroke-width="1.0"/><ellipse cx="1608.3" cy="100" rx="5.66" ry="12.86" transform="rotate(-10 1608.3 100)" fill="#fff" stroke="#000" stroke-width="1.6"/><polygon points="1602.09,113.68 1610.39,112.68 1606.21,87.32 1597.91,88.32" fill="#fff"/><line x1="1602.09" y1="113.68" x2="1610.39" y2="112.68" stroke="#000" stroke-width="1.6"/><line x1="1597.91" y1="88.32" x2="1606.21" y2="87.32" stroke="#000" stroke-width="1.6"/><ellipse cx="1600" cy="101" rx="5.66" ry="12.86" transform="rotate(-10 1600 101)" fill="#fff" stroke="#000" stroke-width="1.6"/><ellipse cx="1608.3" cy="100" rx="5.66" ry="12.86" transform="rotate(-10 1608.3 100)" stroke="#000" stroke-width="1.8" fill="#fff"/><path d="M1552,82.5 V97 C1560,100 1572,100 1579,97 V82.5 Z" fill="#fff" stroke="#000" stroke-width="1.6"/><ellipse cx="1565.5" cy="82.5" rx="13.6" ry="5" fill="#111"/><line x1="1565.5" y1="88" x2="1565.5" y2="95" stroke="#000" stroke-width="1.0"/><path d="M1579,83 V91 C1583,93 1589,93 1592,91 V83 Z" fill="#fff" stroke="#000" stroke-width="1.5"/><ellipse cx="1585.6" cy="83" rx="6.4" ry="3.5" fill="#111"/><path d="M1556,98 C1562,101 1572,101 1578,98 L1578,101 C1570,104 1562,104 1556,101 Z" fill="#222"/><path d="M1508.2,92.8 C1515,88 1532,90 1550,93.7 C1562,96 1573,102 1579.2,118 C1584,133 1586,160 1583,178.3 C1581,191 1578,198 1573,199.5 C1565,201.5 1545,198 1526.4,192.9 C1516,190 1511,184 1509.5,176.5 C1505,160 1502,132 1502.7,118 C1503,106 1504,97 1508.2,92.8 Z" fill="#fff" stroke="#000" stroke-width="2.6"/><path d="M1548,97 C1535,94 1522,92.5 1512.5,94.5 C1508.5,97.5 1507,106 1506.5,118 C1506,132 1508,158 1512,174 C1514,182 1518,187 1527,191 C1545,195.5 1561,197.5 1572,196.5" fill="none" stroke="#151515" stroke-width="8.5"/><path d="M1548,97 C1535,94 1522,92.5 1512.5,94.5 C1508.5,97.5 1507,106 1506.5,118 C1506,132 1508,158 1512,174 C1514,182 1518,187 1527,191 C1545,195.5 1561,197.5 1572,196.5" fill="none" stroke="#999" stroke-width="1.1" stroke-dasharray="1 3.2"/><path d="M1548,97 C1535,94 1522,92.5 1512.5,94.5 C1508.5,97.5 1507,106 1506.5,118 C1506,132 1508,158 1512,174 C1514,182 1518,187 1527,191 C1545,195.5 1561,197.5 1572,196.5" fill="none" stroke="#777" stroke-width="0.9" stroke-dasharray="1 4.5" transform="translate(1.8 1.2)"/><path d="M1569,102 C1577,110 1582,130 1582,155 C1582,175 1579,190 1574,197" fill="none" stroke="#000" stroke-width="1.4"/><ellipse cx="1544.6" cy="144.7" rx="28.8" ry="44.21" transform="rotate(-20 1544.6 144.7)" stroke="#000" stroke-width="2.2" fill="#fff"/><path d="M1568,112 C1574,125 1576,145 1574,165 C1573,175 1570,182 1566,186" fill="none" stroke="#000" stroke-width="2.4"/><ellipse cx="1568.7" cy="137.5" rx="12.8" ry="26.19" transform="rotate(-20 1568.7 137.5)" stroke="#000" stroke-width="1.3" fill="none"/><ellipse cx="1566" cy="138.5" rx="12.8" ry="26.19" transform="rotate(-20 1566 138.5)" stroke="#000" stroke-width="1.0" fill="none"/><path d="M1530,108 C1524,125 1524,150 1533,168 C1540,180 1550,186 1560,186" fill="none" stroke="#000" stroke-width="1.2"/><line x1="1526.4" y1="114.8" x2="1539.1" y2="110.8" stroke="#111" stroke-width="2.6"/><line x1="1525.5" y1="126.6" x2="1538.2" y2="122.6" stroke="#111" stroke-width="2.6"/><line x1="1526.4" y1="140.3" x2="1538.2" y2="136.3" stroke="#111" stroke-width="2.6"/><line x1="1531" y1="153.9" x2="1542.8" y2="149.9" stroke="#111" stroke-width="2.6"/><line x1="1536.4" y1="164.8" x2="1548.2" y2="160.8" stroke="#111" stroke-width="2.6"/><line x1="1544.6" y1="174.8" x2="1556.4" y2="170.8" stroke="#111" stroke-width="2.6"/><line x1="1552.8" y1="180.3" x2="1564.6" y2="176.3" stroke="#111" stroke-width="2.6"/>
<polyline points="1542.6,40.5 1542.6,72.6 1566.5,72.6 1566.5,91" fill="none" stroke="#111" stroke-width="1.2"/><line x1="1584.5" y1="18.4" x2="1584.5" y2="90" stroke="#111" stroke-width="1.2"/><path d="M1577,25 L1581,21 L1593,24 L1594,34 L1577,34 Z" fill="#fff" stroke="#000" stroke-width="2"/><rect x="1583" y="23" width="4" height="10" fill="none" stroke="#000" stroke-width="1"/><ellipse cx="1585" cy="35.5" rx="9.8" ry="3.6" fill="#fff" stroke="#000" stroke-width="2"/><path d="M1578,38 H1592 V45 C1588,48 1582,48 1578,45 Z" fill="#111"/><line x1="1584.5" y1="18.4" x2="1584.5" y2="34" stroke="#111" stroke-width="1.2"/><ellipse cx="1584" cy="61" rx="7.4" ry="3" fill="none" stroke="#000" stroke-width="1.9"/><path d="M1535,50 V57 C1539,60 1547,60 1551,57 V50 Z" fill="#fff" stroke="#000" stroke-width="1.6"/><ellipse cx="1542.75" cy="48.5" rx="13.2" ry="5" fill="#fff" stroke="#000" stroke-width="2"/><ellipse cx="1542.75" cy="48.8" rx="7.5" ry="2.6" fill="none" stroke="#000" stroke-width="1.3"/><line x1="1542.6" y1="40.5" x2="1542.6" y2="56" stroke="#111" stroke-width="1.2"/><ellipse cx="1631" cy="88.7" rx="10.89" ry="12.39" transform="rotate(-15 1631 88.7)" stroke="#000" stroke-width="2.0" fill="#fff"/><ellipse cx="1633" cy="88" rx="8.33" ry="10.64" transform="rotate(-15 1633 88)" stroke="#000" stroke-width="1.0" fill="none"/><ellipse cx="1627.9" cy="90.4" rx="5.95" ry="8.97" transform="rotate(-15 1627.9 90.4)" stroke="#000" stroke-width="1.6" fill="#fff"/>
<line x1="1610" y1="147.5" x2="1655" y2="130" stroke="#111" stroke-width="1.0"/><line x1="1590" y1="173" x2="1644" y2="152" stroke="#111" stroke-width="1.0"/><line x1="1579" y1="187" x2="1630" y2="167.5" stroke="#111" stroke-width="1.0"/><path d="M1634,131 C1636,127 1643,127.5 1646,129 L1652,133 L1654,137 L1648,141 C1645,144.5 1638,144 1635,141 Z" fill="#111"/><ellipse cx="1626.1" cy="141.5" rx="3.73" ry="6.24" transform="rotate(-20 1626.1 141.5)" stroke="#000" stroke-width="1.8" fill="#fff"/><line x1="1616.5" y1="164" x2="1633.5" y2="157.5" stroke="#111" stroke-width="4.4" stroke-linecap="round"/><line x1="1616.5" y1="164" x2="1633.5" y2="157.5" stroke="#777" stroke-width="1.2" stroke-dasharray="1 1.2"/><circle cx="1634.5" cy="157" r="3" fill="#111"/><line x1="1602" y1="179" x2="1619.5" y2="172.5" stroke="#111" stroke-width="4.4" stroke-linecap="round"/><line x1="1602" y1="179" x2="1619.5" y2="172.5" stroke="#777" stroke-width="1.2" stroke-dasharray="1 1.2"/><circle cx="1620.5" cy="172" r="3" fill="#111"/><ellipse cx="1609.7" cy="166.5" rx="3.3" ry="3.8" fill="#111"/><ellipse cx="1595.6" cy="181" rx="3.6" ry="3.9" fill="#111"/>
<polygon points="446.9,572.8 494,556.7 495,600.9 448.6,618.2" fill="#fff" stroke="#000" stroke-width="1.6"/><polygon points="562.2,614.5 610.3,598.5 610.3,662.5 563.8,678.5" fill="#fff" stroke="#000" stroke-width="1.7"/>
<polygon points="496.6,584 549.4,566.4 554.2,571.2 554.2,636.9 507.8,652.9 498.2,651.3" fill="#fff" stroke="#000" stroke-width="2.0" stroke-linejoin="round"/><polygon points="507.8,592 551,576.5 551,635.3 507.8,650.5" fill="none" stroke="#000" stroke-width="1.4"/><line x1="496.6" y1="584" x2="507.8" y2="592" stroke="#000" stroke-width="1.2"/><line x1="549.4" y1="566.4" x2="551" y2="576.5" stroke="#000" stroke-width="1.0"/><polyline points="511,597 547,584 547,631 511,645" fill="none" stroke="#000" stroke-width="0.9"/><circle cx="517.4" cy="593.6" r="2.4" fill="#111"/><circle cx="544.6" cy="611.3" r="2.4" fill="#111"/><circle cx="545.6" cy="631.1" r="2.4" fill="#111"/><circle cx="546" cy="580" r="2.4" fill="#111"/><rect x="540.5" y="586" width="4" height="12" fill="none" stroke="#000" stroke-width="1.1"/><rect x="507.8" y="624" width="6" height="18" fill="#333"/><line x1="517.4" y1="594" x2="511" y2="630" stroke="#000" stroke-width="1.0"/><polyline points="520.6,652.9 523.8,665.7 536.6,669" fill="none" stroke="#000" stroke-width="1.0"/><rect x="537" y="653" width="7" height="19" rx="3.4" fill="#fff" stroke="#000" stroke-width="1.5"/><line x1="540.5" y1="657" x2="540.5" y2="669" stroke="#000" stroke-width="0.9"/><circle cx="551" cy="673.7" r="2.6" fill="#111"/><line x1="552" y1="674.5" x2="556" y2="676" stroke="#111" stroke-width="1.2"/><circle cx="616.7" cy="659.3" r="2.6" fill="#111"/><line x1="618" y1="660" x2="623" y2="662" stroke="#111" stroke-width="1.1"/>
<polygon points="634,652 655,646 660,649 660,674 641,680 634,676" fill="#fff" stroke="#000" stroke-width="1.8" stroke-linejoin="round"/><polyline points="634,652 640,655 660,649" fill="none" stroke="#000" stroke-width="1.3"/><line x1="640" y1="655" x2="641" y2="680" stroke="#000" stroke-width="1.3"/><polygon points="644,656.5 656,653 656,670 644,674" fill="none" stroke="#000" stroke-width="1.4"/><polygon points="627,662 634,656 634,674 628,669" fill="#fff" stroke="#000" stroke-width="1.4"/><polygon points="662,652.7 710.8,636.7 722.8,647.4 722.2,710.1 680.1,724.8 662,716.8" fill="#fff" stroke="#000" stroke-width="2.2" stroke-linejoin="round"/><polyline points="662,652.7 680.1,660.7 722.8,647.4" fill="none" stroke="#000" stroke-width="1.8"/><line x1="680.1" y1="660.7" x2="680.1" y2="724.8" stroke="#000" stroke-width="1.8"/><polyline points="666,652 710,638 716,641" fill="none" stroke="#000" stroke-width="1.0"/><line x1="664.5" y1="656" x2="664.5" y2="712" stroke="#000" stroke-width="1.0"/><polygon points="683.4,666 708.1,659.5 708.1,693.5 683.4,700" fill="#111"/><polygon points="690.8,671.5 701.5,668.5 701.5,689 690.8,692" fill="#fff"/><line x1="693" y1="673" x2="700" y2="688" stroke="#000" stroke-width="0.9"/><circle cx="684" cy="720" r="1.6" fill="#111"/><ellipse cx="673.5" cy="709" rx="4.11" ry="6.75" transform="rotate(-20 673.5 709)" fill="#fff" stroke="#000" stroke-width="1.5"/><polygon points="662.67,719.39 675.67,715.39 671.33,702.61 658.33,706.61" fill="#fff"/><line x1="662.67" y1="719.39" x2="675.67" y2="715.39" stroke="#000" stroke-width="1.5"/><line x1="658.33" y1="706.61" x2="671.33" y2="702.61" stroke="#000" stroke-width="1.5"/><ellipse cx="660.5" cy="713" rx="4.11" ry="6.75" transform="rotate(-20 660.5 713)" fill="#fff" stroke="#000" stroke-width="1.5"/><ellipse cx="660.5" cy="713" rx="4.11" ry="6.75" transform="rotate(-20 660.5 713)" stroke="#000" stroke-width="1.6" fill="#fff"/><ellipse cx="660.8" cy="712.8" rx="2.06" ry="3.65" transform="rotate(-20 660.8 712.8)" stroke="#000" stroke-width="1.0" fill="none"/><polygon points="634.36,724.15 631.29,733.08 622.42,734.73 616.64,727.45 619.71,718.52 628.58,716.87" fill="#fff" stroke="#000" stroke-width="1.8" stroke-linejoin="round"/><ellipse cx="625.5" cy="725.8" rx="3.92" ry="4.57" transform="rotate(-20 625.5 725.8)" stroke="#000" stroke-width="1.5" fill="#fff"/><line x1="611" y1="731" x2="640" y2="720" stroke="#000" stroke-width="0.9"/><ellipse cx="643" cy="719.4" rx="4" ry="4.4" fill="#111"/><ellipse cx="643" cy="719.4" rx="1.5" ry="2" fill="#666"/><circle cx="700" cy="726.5" r="2.4" fill="#111"/><polygon points="735.3,688.2 757,684.5 760.9,687 760.9,710.6 743.3,717 735.3,713.8" fill="#fff" stroke="#000" stroke-width="1.8"/><polygon points="740,690 758,686.5 758.5,709 741.5,714.5" fill="#222"/><polygon points="746,694.5 757,692 757,708 747,711" fill="#fff" stroke="#000" stroke-width="1.2"/><line x1="747" y1="703" x2="757" y2="699" stroke="#000" stroke-width="1.0"/>
<ellipse cx="816" cy="693" rx="7.36" ry="11.65" transform="rotate(-12 816 693)" fill="#fff" stroke="#000" stroke-width="1.5"/><polygon points="851.09,690.15 815.79,681.65 816.21,704.35 851.51,712.85" fill="#fff"/><line x1="851.09" y1="690.15" x2="815.79" y2="681.65" stroke="#000" stroke-width="1.5"/><line x1="851.51" y1="712.85" x2="816.21" y2="704.35" stroke="#000" stroke-width="1.5"/><ellipse cx="851.3" cy="701.5" rx="7.36" ry="11.65" transform="rotate(-12 851.3 701.5)" fill="#fff" stroke="#000" stroke-width="1.5"/><path d="M849.5,697 L851,700 L848,702 L852,703 L850,706" fill="none" stroke="#000" stroke-width="2"/><path d="M851,699 C860,699 868,702 883.1,703.4" fill="none" stroke="#000" stroke-width="1.3"/><path d="M852,704 C862,707 872,710 889.8,709.7" fill="none" stroke="#000" stroke-width="1.3"/><polygon points="922,674.4 928.9,667.5 948.3,660.6 949.7,655 956.7,656.4 958,666 963.6,671.7 965,687 956.7,688.3 944.2,682.8 942.8,675.8 934.4,680 922,677.2" fill="#fff" stroke="#000" stroke-width="1.6" stroke-linejoin="round"/><polygon points="948.5,672 957,670 962,674 962.5,686 957,687 949,682" fill="#333"/><line x1="930" y1="670" x2="948" y2="664" stroke="#000" stroke-width="1.0"/><line x1="944" y1="676" x2="956" y2="668" stroke="#000" stroke-width="1.0"/><path d="M1085.5,609.5 C1064,617 1056,626 1055,637 C1054.5,648 1062,656 1078,659 C1095,661 1115,658 1132.7,653.8 C1150,649 1170,640 1190,631.5" fill="none" stroke="#111" stroke-width="4.6"/><path d="M1085.5,609.5 C1064,617 1056,626 1055,637 C1054.5,648 1062,656 1078,659 C1095,661 1115,658 1132.7,653.8 C1150,649 1170,640 1190,631.5" fill="none" stroke="#fff" stroke-width="1.7"/><line x1="1084" y1="610.5" x2="1112" y2="599.5" stroke="#000" stroke-width="0.9"/><line x1="1084.6" y1="609.6" x2="1113.6" y2="599.1" stroke="#000" stroke-width="0.9"/><line x1="1085.2" y1="608.7" x2="1115.2" y2="598.7" stroke="#000" stroke-width="0.9"/><line x1="1085.8" y1="607.8" x2="1116.8" y2="598.3" stroke="#000" stroke-width="0.9"/><line x1="1086.4" y1="606.9" x2="1118.4" y2="597.9" stroke="#000" stroke-width="0.9"/><line x1="1087" y1="606" x2="1120" y2="597.5" stroke="#000" stroke-width="0.9"/><line x1="1113" y1="601.5" x2="1121" y2="599" stroke="#000" stroke-width="1.6" stroke-linecap="round"/><ellipse cx="1197" cy="628.5" rx="2.94" ry="6.29" transform="rotate(-20 1197 628.5)" fill="#fff" stroke="#000" stroke-width="1.4"/><polygon points="1192.22,637.39 1199.22,634.39 1194.78,622.61 1187.78,625.61" fill="#fff"/><line x1="1192.22" y1="637.39" x2="1199.22" y2="634.39" stroke="#000" stroke-width="1.4"/><line x1="1187.78" y1="625.61" x2="1194.78" y2="622.61" stroke="#000" stroke-width="1.4"/><ellipse cx="1190" cy="631.5" rx="2.94" ry="6.29" transform="rotate(-20 1190 631.5)" fill="#fff" stroke="#000" stroke-width="1.4"/><ellipse cx="1190" cy="631.5" rx="2.94" ry="6.29" transform="rotate(-20 1190 631.5)" stroke="#000" stroke-width="1.4" fill="#fff"/><ellipse cx="1206.9" cy="624" rx="3.59" ry="11.95" transform="rotate(-20 1206.9 624)" fill="#fff" stroke="#000" stroke-width="1.5"/><polygon points="1206.02,637.22 1211.02,635.22 1202.78,612.78 1197.78,614.78" fill="#fff"/><line x1="1206.02" y1="637.22" x2="1211.02" y2="635.22" stroke="#000" stroke-width="1.5"/><line x1="1197.78" y1="614.78" x2="1202.78" y2="612.78" stroke="#000" stroke-width="1.5"/><ellipse cx="1201.9" cy="626" rx="3.59" ry="11.95" transform="rotate(-20 1201.9 626)" fill="#fff" stroke="#000" stroke-width="1.5"/><ellipse cx="1201.9" cy="626" rx="3.59" ry="11.95" transform="rotate(-20 1201.9 626)" stroke="#000" stroke-width="1.6" fill="#fff"/><ellipse cx="1218.7" cy="619.3" rx="4.48" ry="14.49" transform="rotate(-20 1218.7 619.3)" fill="#fff" stroke="#000" stroke-width="1.6"/><polygon points="1218.69,634.9 1223.69,632.9 1213.71,605.7 1208.71,607.7" fill="#fff"/><line x1="1218.69" y1="634.9" x2="1223.69" y2="632.9" stroke="#000" stroke-width="1.6"/><line x1="1208.71" y1="607.7" x2="1213.71" y2="605.7" stroke="#000" stroke-width="1.6"/><ellipse cx="1213.7" cy="621.3" rx="4.48" ry="14.49" transform="rotate(-20 1213.7 621.3)" fill="#fff" stroke="#000" stroke-width="1.6"/><ellipse cx="1213.7" cy="621.3" rx="4.48" ry="14.49" transform="rotate(-20 1213.7 621.3)" stroke="#000" stroke-width="1.8" fill="#fff"/><ellipse cx="1234" cy="614" rx="7.42" ry="14.22" transform="rotate(-20 1234 614)" fill="#fff" stroke="#000" stroke-width="1.6"/><polygon points="1230.92,630.34 1238.92,627.34 1229.08,600.66 1221.08,603.66" fill="#fff"/><line x1="1230.92" y1="630.34" x2="1238.92" y2="627.34" stroke="#000" stroke-width="1.6"/><line x1="1221.08" y1="603.66" x2="1229.08" y2="600.66" stroke="#000" stroke-width="1.6"/><ellipse cx="1226" cy="617" rx="7.42" ry="14.22" transform="rotate(-20 1226 617)" fill="#fff" stroke="#000" stroke-width="1.6"/><line x1="1227" y1="605" x2="1228" y2="629" stroke="#000" stroke-width="1.0"/><line x1="1229.6" y1="604" x2="1230.6" y2="628" stroke="#000" stroke-width="1.0"/><line x1="1232.2" y1="603" x2="1233.2" y2="627" stroke="#000" stroke-width="1.0"/><line x1="1234.8" y1="602" x2="1235.8" y2="626" stroke="#000" stroke-width="1.0"/><ellipse cx="1226" cy="617" rx="7.42" ry="14.22" transform="rotate(-20 1226 617)" stroke="#000" stroke-width="1.8" fill="#fff"/><ellipse cx="1226.5" cy="616.8" rx="4.43" ry="10.52" transform="rotate(-20 1226.5 616.8)" stroke="#000" stroke-width="1.0" fill="none"/><line x1="1234" y1="611" x2="1242.7" y2="608" stroke="#000" stroke-width="2.4" stroke-linecap="round"/>
<line x1="64.6" y1="684" x2="1609" y2="123.4" stroke="#222" stroke-width="1.1" stroke-dasharray="76 13 15 13" stroke-dashoffset="111"/>
<line x1="1609" y1="123.4" x2="1686.5" y2="95.3" stroke="#222" stroke-width="1.1"/>
<g stroke="#3a3a3a" stroke-width="1.3" fill="none"><line x1="1594" y1="26" x2="1626.5" y2="15"/><line x1="1591.5" y1="59.5" x2="1642.8" y2="40"/><line x1="1641.5" y1="85" x2="1674" y2="73"/><line x1="1619" y1="173.8" x2="1619" y2="257.5"/><line x1="1595.5" y1="182.5" x2="1595.5" y2="265"/><line x1="1537.8" y1="176" x2="1537.8" y2="282.5"/><line x1="1481.5" y1="156" x2="1481.5" y2="302.5"/><line x1="1441" y1="198.8" x2="1441" y2="318.8"/><line x1="1391.5" y1="213.8" x2="1391.5" y2="338.8"/><line x1="1338.5" y1="277.5" x2="1338.5" y2="356"/><line x1="1191.2" y1="311.2" x2="1191.2" y2="414"/><line x1="1127.5" y1="307.5" x2="1127.5" y2="434"/><line x1="1053.8" y1="368.8" x2="1053.8" y2="461.2"/><line x1="1011.2" y1="346.2" x2="1011.2" y2="475"/><line x1="945.3" y1="477.7" x2="945.3" y2="517"/><line x1="832.2" y1="431" x2="864.3" y2="418"/><line x1="833.7" y1="485" x2="862.8" y2="474.8"/><line x1="834.3" y1="510.3" x2="862.8" y2="500.4"/><line x1="759.9" y1="480.2" x2="759.9" y2="543"/><line x1="707.2" y1="327.9" x2="707.2" y2="390"/><line x1="656.2" y1="345.9" x2="656.2" y2="456.4"/><line x1="627" y1="378.9" x2="627" y2="468.3"/><line x1="587.5" y1="371.4" x2="587.5" y2="485"/><line x1="529.7" y1="391" x2="529.7" y2="498.4"/><line x1="425.2" y1="431.1" x2="425.2" y2="509.6"/><line x1="355.4" y1="456" x2="355.4" y2="572"/><line x1="302.1" y1="478.2" x2="302.1" y2="563"/><line x1="236.6" y1="503.2" x2="236.6" y2="583"/><line x1="129.6" y1="542" x2="129.6" y2="621.5"/><line x1="60" y1="574.6" x2="60" y2="645.5"/><line x1="96" y1="741.5" x2="96" y2="793"/><line x1="413.3" y1="654.5" x2="446.9" y2="617.7"/><line x1="466.1" y1="667.3" x2="496.6" y2="647.2"/><line x1="502" y1="685" x2="508.4" y2="652.9"/><line x1="504.6" y1="720.2" x2="538.2" y2="672.1"/><line x1="506.2" y1="752.2" x2="551" y2="673.7"/><line x1="545.6" y1="737.8" x2="567" y2="678.5"/><line x1="605.5" y1="694" x2="616.7" y2="661"/><line x1="600" y1="752.2" x2="623.1" y2="733"/><line x1="616.7" y1="782.7" x2="642.3" y2="720.2"/><line x1="648.1" y1="784.3" x2="654.5" y2="677"/><line x1="677" y1="781.1" x2="674.4" y2="717"/><line x1="713.8" y1="781.1" x2="700" y2="728.2"/><line x1="758.7" y1="777.9" x2="743.3" y2="713.8"/><line x1="825.6" y1="698.9" x2="825.6" y2="748"/><line x1="944.7" y1="680" x2="944.7" y2="743.9"/><line x1="1087.2" y1="659.2" x2="1087.2" y2="742.5"/></g>
<line x1="1272.6" y1="300" x2="1272.6" y2="380" stroke="#333" stroke-width="1.1"/>
<g font-family="Liberation Sans" font-weight="bold" font-size="23" text-anchor="middle" fill="#000"><text transform="translate(1638.2 25.9) scale(1.07 1)">1</text><text transform="translate(1655.1 43.7) scale(1.07 1)">2</text><text transform="translate(1677.9 68.8) scale(1.07 1)">3</text><text transform="translate(1621.9 278.6) scale(1.07 1)">4</text><text transform="translate(1595.9 286.1) scale(1.07 1)">5</text><text transform="translate(1537.8 304.8) scale(1.07 1)">6</text><text transform="translate(1484.4 326.1) scale(1.07 1)">7</text><text transform="translate(1441.8 341.8) scale(1.07 1)">8</text><text transform="translate(1392.8 360.8) scale(1.07 1)">9</text><text transform="translate(1339.5 378.5) scale(1.07 1)">10</text><text transform="translate(1192.9 432.3) scale(1.07 1)">12</text><text transform="translate(1128.1 456) scale(1.07 1)">13</text><text transform="translate(1055.3 485.3) scale(1.07 1)">14</text><text transform="translate(1013.2 498.7) scale(1.07 1)">15</text><text transform="translate(946.5 540.1) scale(1.07 1)">16</text><text transform="translate(814.5 441.8) scale(1.07 1)">17</text><text transform="translate(814.5 494.4) scale(1.07 1)">18</text><text transform="translate(815 524.1) scale(1.07 1)">19</text><text transform="translate(759.4 564.2) scale(1.07 1)">20</text><text transform="translate(705 322.4) scale(1.07 1)">21</text><text transform="translate(656 338.8) scale(1.07 1)">22</text><text transform="translate(626 371.2) scale(1.07 1)">23</text><text transform="translate(586.9 365.1) scale(1.07 1)">24</text><text transform="translate(529.1 385.5) scale(1.07 1)">25</text><text transform="translate(424.3 425.3) scale(1.07 1)">26</text><text transform="translate(354.9 448.2) scale(1.07 1)">27</text><text transform="translate(301 471.2) scale(1.07 1)">28</text><text transform="translate(236 497.1) scale(1.07 1)">29</text><text transform="translate(128.3 534.8) scale(1.07 1)">30</text><text transform="translate(58.6 568) scale(1.07 1)">31</text><text transform="translate(96 813.3) scale(1.07 1)">32</text><text transform="translate(401.8 675.1) scale(1.07 1)">33</text><text transform="translate(449 680.9) scale(1.07 1)">34</text><text transform="translate(487 705.6) scale(1.07 1)">35</text><text transform="translate(487 736.7) scale(1.07 1)">36</text><text transform="translate(487.9 768.1) scale(1.07 1)">37</text><text transform="translate(540.9 755.9) scale(1.07 1)">38</text><text transform="translate(591.1 712) scale(1.07 1)">32</text><text transform="translate(584.2 770.6) scale(1.07 1)">39</text><text transform="translate(602 802.7) scale(1.07 1)">40</text><text transform="translate(643.6 805.9) scale(1.07 1)">41</text><text transform="translate(678.7 805.9) scale(1.07 1)">42</text><text transform="translate(716.9 800.1) scale(1.07 1)">43</text><text transform="translate(760.9 796.9) scale(1.07 1)">44</text><text transform="translate(825.4 768.7) scale(1.07 1)">45</text><text transform="translate(943.5 764.5) scale(1.07 1)">46</text><text transform="translate(1084.9 763.7) scale(1.07 1)">47</text></g>
<path d="M1255.4,304.9 H1320.9 Q1280.9,334.9 1284.9,376.9 H1214.1 Q1215.4,334.9 1255.4,304.9 Z" fill="#f4b1b5" stroke="#fff" stroke-width="7.5" stroke-linejoin="miter"/>
<path d="M1255.4,304.9 H1320.9 Q1280.9,334.9 1284.9,376.9 H1214.1 Q1215.4,334.9 1255.4,304.9 Z" fill="#f4b1b5"/>
<path d="M1281.7,324.8 H1347.2 Q1307.2,354.8 1311.2,396.8 H1240.4 Q1241.7,354.8 1281.7,324.8 Z" fill="#fbf9b2" stroke="#fff" stroke-width="7.5" stroke-linejoin="miter"/>
<path d="M1281.7,324.8 H1347.2 Q1307.2,354.8 1311.2,396.8 H1240.4 Q1241.7,354.8 1281.7,324.8 Z" fill="#fbf9b2"/>
<line x1="1272.6" y1="300" x2="1272.6" y2="380" stroke="#8a8a60" stroke-width="1.1" opacity="0.55"/>
<line x1="1338.5" y1="277.5" x2="1338.5" y2="356" stroke="#333" stroke-width="1.1"/>
<text transform="translate(1275.5 398.8) scale(1.07 1)" font-family="Liberation Sans" font-weight="bold" font-size="23" text-anchor="middle" fill="#3d3a12">11</text>
</svg>
</body></html>
